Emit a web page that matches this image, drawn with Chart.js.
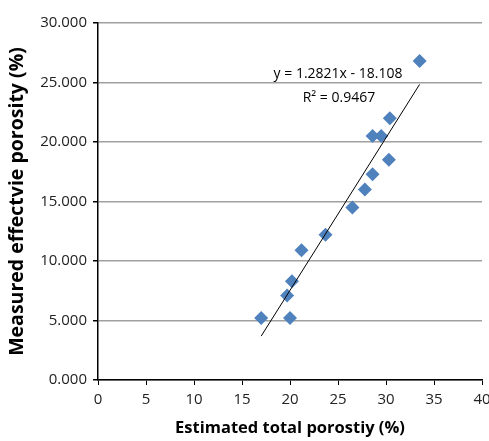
<!DOCTYPE html>
<html>
<head>
<meta charset="utf-8">
<script src="https://cdn.jsdelivr.net/npm/chart.js@4/dist/chart.umd.min.js"></script>
<style>
  html, body { margin: 0; padding: 0; background: #fff; }
</style>
</head>
<body>
<canvas id="porosityChart" width="489" height="441"></canvas>
<script>
// ── data ──
var totalPorosity = [33.5, 30.4, 28.6, 29.5, 30.3, 28.6, 27.8, 26.5, 23.7, 21.2, 20.2, 19.7, 17.0, 20.0];
var effPorosity   = [26.8, 22.0, 20.5, 20.5, 18.5, 17.3, 16.0, 14.5, 12.2, 10.9, 8.3, 7.1, 5.2, 5.2];
var trendX = [17.0, 33.5];
var trendY = [3.69, 24.84];
var eqLines = ['y = 1.2821x - 18.108', 'R\u00b2 = 0.9467'];

var FONT = "'Open Sans', sans-serif";

var pts = totalPorosity.map(function(x, i){ return {x: x, y: effPorosity[i]}; });
var trend = trendX.map(function(x, i){ return {x: x, y: trendY[i]}; });

// trendline label, anchored in data units
var eqLabel = {
    id: 'eqLabel',
    afterDatasetsDraw: function(chart) {
        var ctx = chart.ctx, xs = chart.scales.x, ys = chart.scales.y;
        ctx.save();
        ctx.fillStyle = '#000';
        ctx.font = '14px ' + FONT;
        ctx.textAlign = 'center';
        ctx.textBaseline = 'middle';
        ctx.fillText(eqLines[0], xs.getPixelForValue(25.0), ys.getPixelForValue(25.7));
        ctx.fillText(eqLines[1], xs.getPixelForValue(25.1), ys.getPixelForValue(23.7));
        ctx.restore();
    }
};

new Chart(document.getElementById('porosityChart'), {
    type: 'scatter',
    data: {
        datasets: [
            { data: pts, pointStyle: 'rectRot', pointRadius: 7, pointHoverRadius: 7,
              backgroundColor: '#4F81BD', borderColor: '#4F81BD', borderWidth: 0, order: 2 },
            { type: 'line', data: trend, borderColor: '#000', borderWidth: 1,
              pointRadius: 0, fill: false, order: 1 }
        ]
    },
    options: {
        responsive: false,
        animation: false,
        layout: { padding: { top: 23, right: 5, left: 0, bottom: 0 } },
        plugins: { legend: { display: false }, tooltip: { enabled: false } },
        scales: {
            x: {
                type: 'linear', min: 0, max: 40,
                ticks: { stepSize: 5, color: '#222', padding: 6, font: { family: FONT, size: 15 } },
                grid: { drawOnChartArea: false, tickLength: 5, tickColor: '#000' },
                border: { color: '#000', width: 1.5 },
                title: { display: true, text: 'Estimated total porostiy (%)', color: '#000',
                         font: { family: FONT, size: 16.5, weight: 'bold' }, padding: { top: 0, bottom: 3 } },
                afterFit: function(s) { s.height = 61; s.paddingLeft = 0; s.paddingRight = 0; }
            },
            y: {
                min: 0, max: 30,
                ticks: { stepSize: 5, color: '#222', padding: 6, font: { family: FONT, size: 15 },
                         callback: function(v){ return v.toFixed(3); } },
                grid: { color: '#a0a0a0', lineWidth: 1.5, tickLength: 5, tickColor: '#000' },
                border: { color: '#000', width: 1.5 },
                title: { display: true, text: 'Measured effectvie porosity (%)', color: '#000',
                         font: { family: FONT, size: 19.5, weight: 'bold' }, padding: { top: 6, bottom: 0 } },
                afterFit: function(s) { s.width = 98; s.paddingTop = 0; s.paddingBottom = 0; }
            }
        }
    },
    plugins: [eqLabel]
});
</script>
</body>
</html>
